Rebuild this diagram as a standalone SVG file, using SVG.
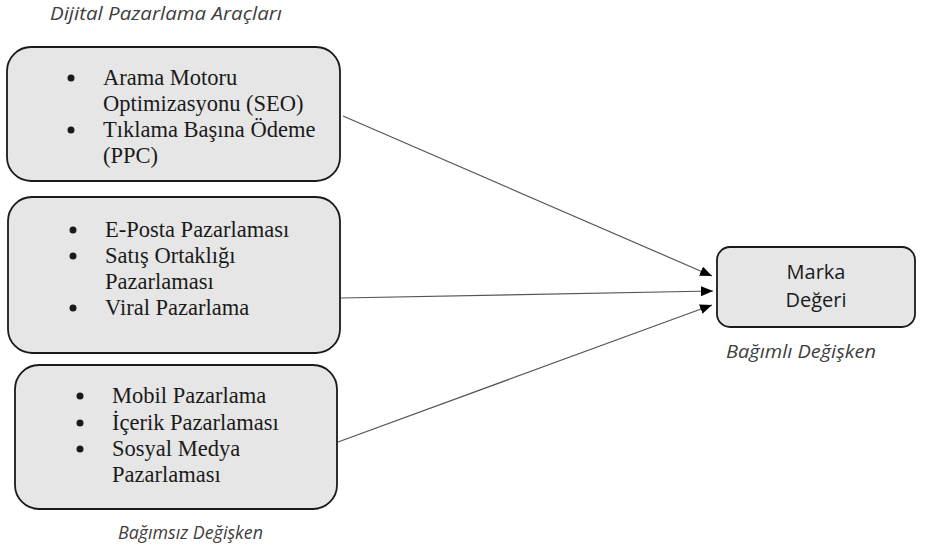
<svg xmlns="http://www.w3.org/2000/svg" width="925" height="555" viewBox="0 0 925 555">
<defs>
<style>
.box{fill:#e6e6e6;stroke:#1a1a1a;stroke-width:1.8}
.t{font-family:"Liberation Serif","Times New Roman",serif;font-size:22.5px;fill:#1a1a1a}
.lbl{font-family:"Open Sans","Liberation Sans",sans-serif;font-style:italic;font-size:18px;fill:#404040}
.m{font-family:"Open Sans","Liberation Sans",sans-serif;font-size:20px;fill:#1a1a1a;text-anchor:middle}
.b{fill:#1a1a1a}
.c{stroke:#555;stroke-width:1.2;fill:none;marker-end:url(#arr)}
</style>
<marker id="arr" viewBox="0 0 12 10" refX="12" refY="5" markerWidth="12" markerHeight="10" markerUnits="userSpaceOnUse" orient="auto">
<path d="M0,0 L12,5 L0,10 Z" fill="#000"/>
</marker>
</defs>
<rect width="925" height="555" fill="#fff"/>
<text class="lbl" x="50" y="20" font-size="17" textLength="232" lengthAdjust="spacingAndGlyphs">Dijital Pazarlama Araçları</text>
<g id="n1">
<rect class="box" x="7" y="47" width="333" height="134" rx="24"/>
<circle class="b" cx="71" cy="78" r="3.5"/>
<circle class="b" cx="71" cy="130" r="3.5"/>
<text class="t" x="103" y="85">Arama Motoru</text>
<text class="t" x="103" y="111">Optimizasyonu (SEO)</text>
<text class="t" x="103" y="137">Tıklama Başına Ödeme</text>
<text class="t" x="103" y="163">(PPC)</text>
</g>
<g id="n2">
<rect class="box" x="8" y="197" width="332" height="156" rx="24"/>
<circle class="b" cx="73" cy="230" r="3.5"/>
<circle class="b" cx="73" cy="256" r="3.5"/>
<circle class="b" cx="73" cy="308" r="3.5"/>
<text class="t" x="105" y="237">E-Posta Pazarlaması</text>
<text class="t" x="105" y="263">Satış Ortaklığı</text>
<text class="t" x="105" y="289">Pazarlaması</text>
<text class="t" x="105" y="315">Viral Pazarlama</text>
</g>
<g id="n3">
<rect class="box" x="15" y="365" width="322" height="144" rx="24"/>
<circle class="b" cx="80" cy="396" r="3.5"/>
<circle class="b" cx="80" cy="423" r="3.5"/>
<circle class="b" cx="80" cy="449" r="3.5"/>
<text class="t" x="112" y="403">Mobil Pazarlama</text>
<text class="t" x="112" y="430">İçerik Pazarlaması</text>
<text class="t" x="112" y="456">Sosyal Medya</text>
<text class="t" x="112" y="482">Pazarlaması</text>
</g>
<text class="lbl" x="118" y="539" textLength="145" lengthAdjust="spacingAndGlyphs">Bağımsız Değişken</text>
<g id="n4">
<rect class="box" x="717" y="247" width="198" height="80" rx="13"/>
<text class="m" x="816" y="279">Marka</text>
<text class="m" x="816" y="307">Değeri</text>
</g>
<text class="lbl" x="726" y="358" textLength="150" lengthAdjust="spacingAndGlyphs">Bağımlı Değişken</text>
<g id="connectors">
<line class="c" x1="343" y1="116" x2="712" y2="276"/>
<line class="c" x1="341" y1="298" x2="713" y2="291"/>
<line class="c" x1="338" y1="442" x2="712" y2="305"/>
</g>
</svg>
